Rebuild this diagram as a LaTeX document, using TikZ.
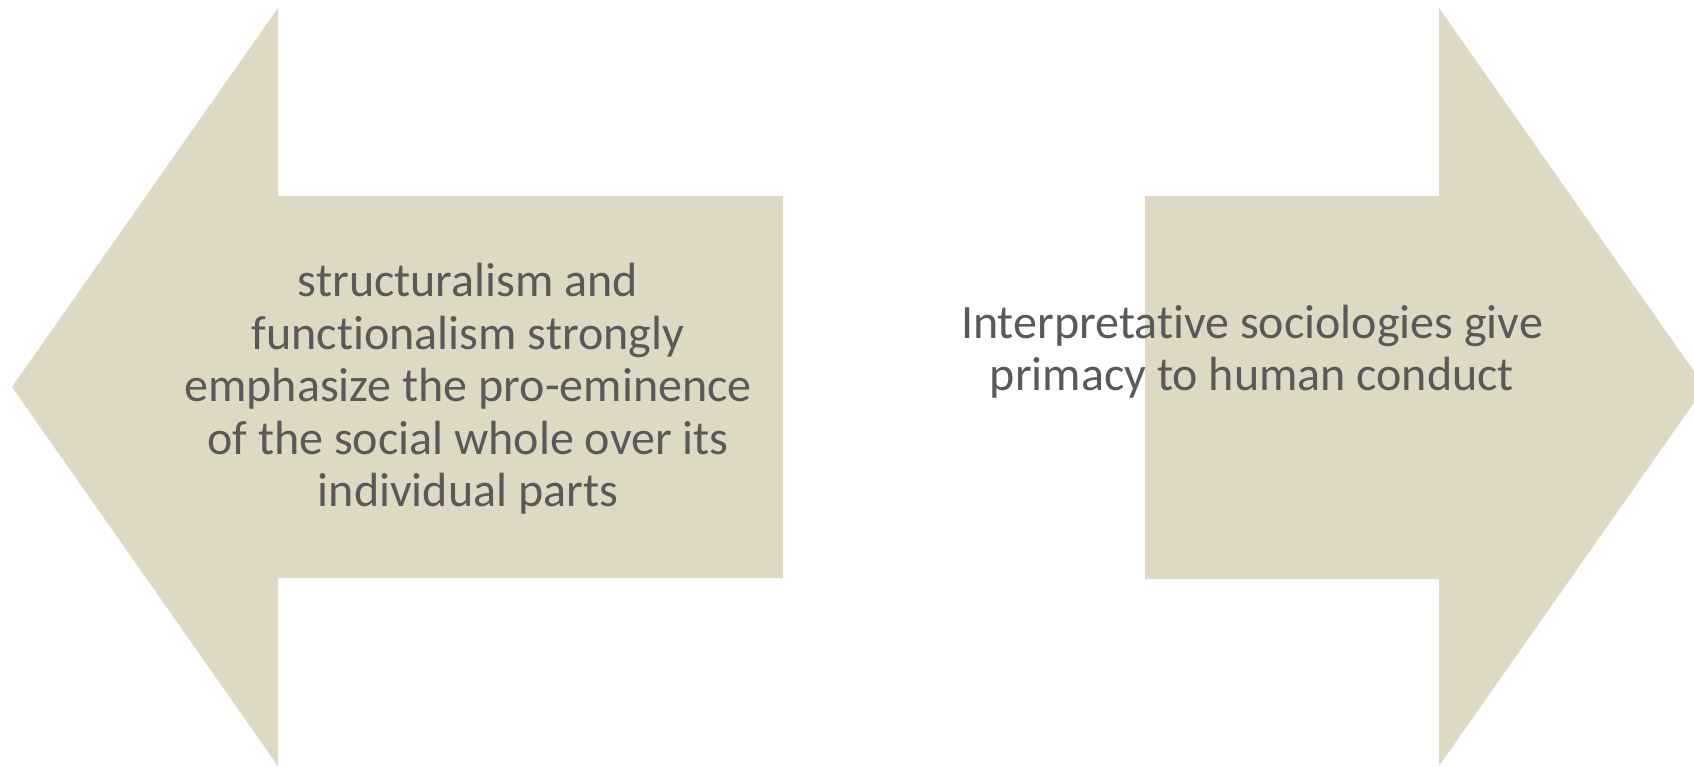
\documentclass[tikz,border=0pt]{standalone}
\usepackage{fontspec}
\setmainfont{Carlito}[Ligatures=NoCommon]
\definecolor{arrowfill}{HTML}{DDD9C3}
\definecolor{textgray}{HTML}{595959}
\tikzset{
  bigarrow/.style={fill=arrowfill, draw=none},
  arrowtext/.style={text=textgray, align=center, inner sep=0pt,
    font=\fontsize{48}{52.4}\selectfont}
}
\begin{document}
\begin{tikzpicture}[x=1pt,y=-1pt]
\useasboundingbox (0,0) rectangle (1694,767);
\clip (0,0) rectangle (1694,767);
\fill[white] (0,0) rectangle (1694,767);
\path[bigarrow] (12,387) -- (278,8) -- (278,196) -- (783,196) -- (783,578) -- (278,578) -- (278,766) -- cycle;
\path[bigarrow] (1145,196) -- (1439,196) -- (1439,8) -- (1705,387) -- (1439,766) -- (1439,579) -- (1145,579) -- cycle;
\node[arrowtext] (lefttext) at (468,389) {structuralism and\\functionalism strongly\\emphasize the pro-eminence\\of the social whole over its\\individual parts};
\node[arrowtext] (righttext) at (1252,352) {Interpretative sociologies give\\primacy to human conduct};
\end{tikzpicture}
\end{document}
